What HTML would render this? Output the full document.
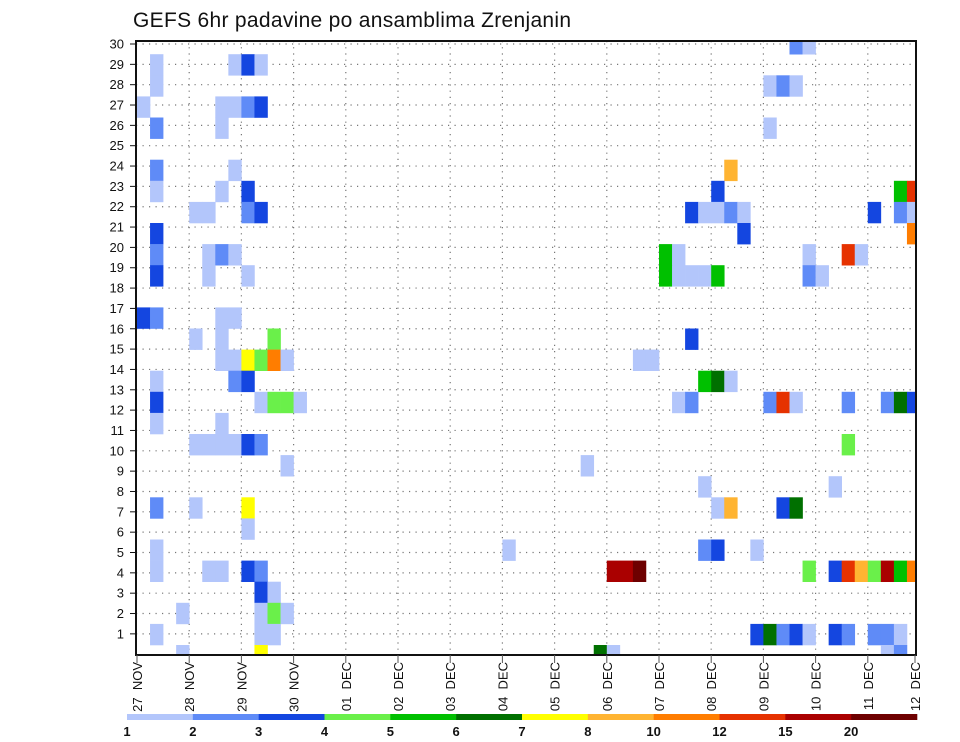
<!DOCTYPE html>
<html><head><meta charset="utf-8">
<style>
html,body{margin:0;padding:0;background:#fff;}
svg{display:block;font-family:"Liberation Sans","DejaVu Sans",sans-serif;}
</style></head>
<body>
<svg id="chart" width="960" height="742" viewBox="0 0 960 742" xmlns="http://www.w3.org/2000/svg">
<rect width="960" height="742" fill="#fff"/>
<text x="133" y="27" font-size="21" fill="#111" style="letter-spacing:0.3px">GEFS 6hr padavine po ansamblima Zrenjanin</text>
<defs><clipPath id="plotclip"><rect x="136" y="41" width="780" height="614"/></clipPath></defs>
<g id="grid"></g>
<g id="cells" clip-path="url(#plotclip)"></g>
<rect x="136" y="41" width="780" height="614" fill="none" stroke="#111" stroke-width="2"/>
<g id="yaxis"></g>
<g id="xaxis"></g>
<g id="legend"></g>
</svg>
<script>
// ---- data ----
const dayLabels = ["27 NOV","28 NOV","29 NOV","30 NOV","01 DEC","02 DEC","03 DEC","04 DEC","05 DEC","06 DEC","07 DEC","08 DEC","09 DEC","10 DEC","11 DEC","12 DEC"];
const memberTicks = [1,2,3,4,5,6,7,8,9,10,11,12,13,14,15,16,17,18,19,20,21,22,23,24,25,26,27,28,29,30];
const levelColors = ["#b3c6fb","#5f8bf7","#1446e0","#6af04a","#00c000","#007000","#ffff00","#ffb432","#ff7d00","#e63200","#aa0000","#6e0000"];
const levelLabels = ["1","2","3","4","5","6","7","8","10","12","15","20"];
// each cell: [timestep (6h index), member row, level (1..12)]
const cellTimes = [1,1,7,8,9,0,6,7,8,9,1,6,1,7,1,6,8,4,5,8,9,1,1,5,6,7,1,5,8,0,1,6,7,4,6,10,6,7,8,9,10,11,1,7,8,1,9,10,11,12,1,6,4,5,6,7,8,9,11,1,4,8,8,1,1,5,6,8,9,9,10,3,9,10,11,1,9,10,3,9,
28,34,38,39,
50,51,48,49,50,48,45,44,58,59,42,43,44,45,46,56,58,59,46,59,40,41,51,54,55,40,41,42,43,44,51,52,42,43,44,45,41,42,48,49,50,54,57,58,59,54,43,53,44,45,49,50,43,44,47,36,37,38,51,53,54,55,56,57,58,59,47,48,49,50,51,53,54,56,57,58,35,36,57,58];
const cellMembers = [28,27,28,28,28,26,26,26,26,26,25,25,23,23,22,22,22,21,21,21,21,20,19,19,19,19,18,18,18,16,16,16,16,15,15,15,14,14,14,14,14,14,13,13,13,12,12,12,12,12,11,11,10,10,10,10,10,10,9,7,7,7,6,5,4,4,4,4,4,3,3,2,2,2,2,1,1,1,0,0,
5,9,14,14,
29,29,27,27,27,25,23,22,22,22,21,21,21,21,21,21,21,21,20,20,19,19,19,19,19,18,18,18,18,18,18,18,15,13,13,13,12,12,12,12,12,12,12,12,12,10,8,8,7,7,7,7,5,5,5,4,4,4,4,4,4,4,4,4,4,4,1,1,1,1,1,1,1,1,1,1,0,0,0,0];
const cellLevels = [1,1,1,3,1,1,1,1,2,3,2,1,2,1,1,1,3,1,1,2,3,3,2,1,2,1,3,1,1,3,2,1,1,1,1,4,1,1,7,4,9,1,1,2,3,3,1,4,4,1,1,1,1,1,1,1,3,2,1,2,1,7,1,1,1,1,1,3,2,3,1,1,1,4,1,1,1,1,1,7,
1,1,1,1,
2,1,1,2,1,1,8,3,5,10,3,1,1,2,1,3,2,1,3,9,5,1,1,10,1,5,1,1,1,5,2,1,3,5,6,1,1,2,2,10,1,2,2,6,3,4,1,1,1,8,3,6,2,3,1,11,11,12,4,3,10,8,4,11,5,9,3,6,2,3,1,3,2,2,2,1,6,1,1,2];

// ---- axes ----
const X0 = 137, DAY = 52.2, STEP = DAY/4, XMAX = 916;
const ROWH = 21.1, ROW0 = 645;
function xDay(d){ return Math.min(X0 + DAY*d, 915); }
function xStep(k){ return X0 + STEP*k; }
function yTick(r){ return 44 + (30 - r)*20.34; }
function yCellTop(c){ return ROW0 - ROWH*c; }
const NS = "http://www.w3.org/2000/svg";
function mk(tag, attrs, parent){ const e=document.createElementNS(NS,tag); for(const a in attrs) e.setAttribute(a,attrs[a]); parent.appendChild(e); return e; }

const grid = document.getElementById('grid');
memberTicks.forEach(r=>{
  const l = mk('line',{x1:136,x2:916,y1:yTick(r),y2:yTick(r),stroke:'#777','stroke-width':1.2,'stroke-dasharray':'1.2 5.3'},grid);
  
  
});
dayLabels.forEach((d,i)=>{
  if(i===0||i===dayLabels.length-1) return;
  const l = mk('line',{x1:xDay(i),x2:xDay(i),y1:41,y2:655,stroke:'#777','stroke-width':1.2,'stroke-dasharray':'1.2 5'},grid);
  
  
});

const cells = document.getElementById('cells');
for(let i=0;i<cellTimes.length;i++){
  const r = mk('rect',{x:xStep(cellTimes[i]),y:yCellTop(cellMembers[i]),width:STEP+0.3,height:ROWH+0.3,fill:levelColors[cellLevels[i]-1]},cells);
  
  
}

const yaxis = document.getElementById('yaxis');
memberTicks.forEach(r=>{
  const t = mk('text',{x:124,y:yTick(r)+4.5,'font-size':13,'text-anchor':'end',fill:'#111'},yaxis);
  t.textContent = r;
  
  
  const tk = mk('line',{x1:130,x2:136,y1:yTick(r),y2:yTick(r),stroke:'#111','stroke-width':1},yaxis);
  
  
});

const xaxis = document.getElementById('xaxis');
dayLabels.forEach((d,i)=>{
  const x = xDay(i);
  const tk = mk('line',{x1:x,x2:x,y1:655,y2:663,stroke:'#555','stroke-width':1},xaxis);
  
  
  const t = mk('text',{x:0,y:0,'font-size':13,'text-anchor':'end',fill:'#111',transform:`translate(${x+5},662) rotate(-90)`},xaxis);
  t.textContent = d.replace(' ','\u00a0\u00a0');
  
  
});

const legend = document.getElementById('legend');
const LX = 127, LW = (917-127)/levelColors.length;
levelColors.forEach((c,i)=>{
  const r = mk('rect',{x:LX+LW*i,y:714,width:LW+0.3,height:6,fill:c},legend);
  
  
});
levelLabels.forEach((s,i)=>{
  const t = mk('text',{x:LX+LW*i,y:736,'font-size':13,'text-anchor':'middle','font-weight':'bold',fill:'#111'},legend);
  t.textContent = s;
  
  
});
</script>
</body></html>
